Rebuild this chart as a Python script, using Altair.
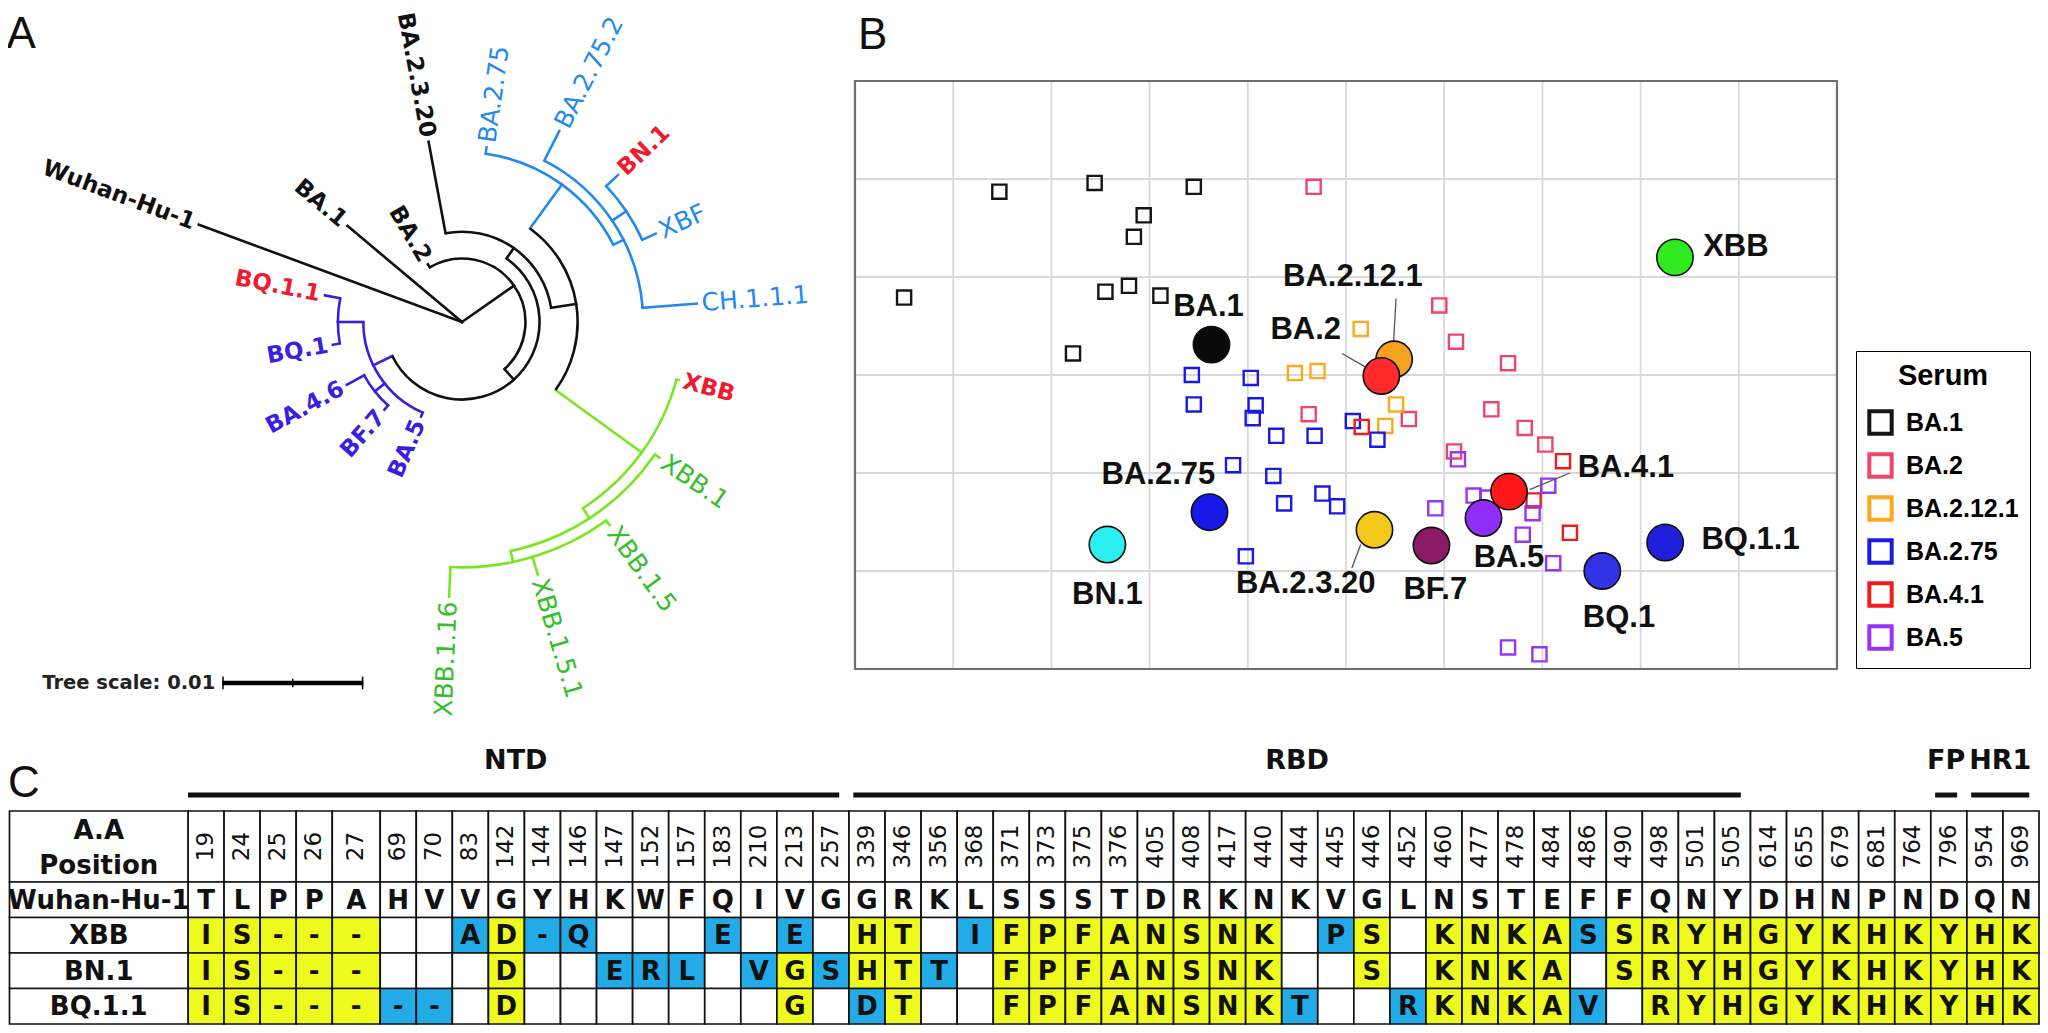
import altair as alt
import numpy as np
import pandas as pd

# ============================ DATA ============================
# ---- Panel A: phylogenetic tree (circular layout) ----
# angle: degrees, counter-clockwise from east; dist: distance from root in 0.001 subst./site
TREE_NODE = ["root", "Wuhan-Hu-1", "BA.1", "n_BA2", "BA.2", "n_postBA2", "n_BA45",
             "n_BQ", "BQ.1.1", "BQ.1", "n_BA46BF7", "BA.4.6", "BF.7", "BA.5",
             "n_BA2320", "BA.2.3.20", "n_BA275XBB", "n_BA275", "BA.2.75", "n_BA275b",
             "BA.2.75.2", "n_BN1", "BN.1", "XBF", "CH.1.1.1",
             "n_XBB", "XBB", "n_XBB1", "XBB.1", "n_XBB15", "XBB.1.5", "XBB.1.5.1", "XBB.1.16"]
TREE_PARENT = [None, "root", "root", "root", "n_BA2", "n_BA2", "n_postBA2",
               "n_BA45", "n_BQ", "n_BQ", "n_BA45", "n_BA46BF7", "n_BA46BF7", "n_BA45",
               "n_postBA2", "n_BA2320", "n_BA2320", "n_BA275XBB", "n_BA275", "n_BA275",
               "n_BA275b", "n_BA275b", "n_BN1", "n_BN1", "n_BA275b",
               "n_BA275XBB", "n_XBB", "n_XBB", "n_XBB1", "n_XBB1", "n_XBB15", "n_XBB15", "n_XBB15"]
TREE_ANGLE = [0, 159.7, 140, 35, 120.6, -48, -154,
              -180, -191, -170, -141.5, -151.4, -131.5, -113.4,
              55, 100.5, 9, 54, 82, 27,
              63, 34, 43.3, 24.5, 4.5,
              -36, -15, -57, -34.5, -78, -54, -73.3, -92.7]
TREE_DIST = [0, 19.9, 10.6, 4.5, 4.75, 5.5, 7.0,
             8.8, 9.9, 9.3, 7.9, 9.3, 8.3, 7.3,
             6.4, 13.0, 8.2, 12.05, 12.5, 12.85,
             15.2, 14.05, 15.2, 15.1, 16.7,
             15.75, 15.9, 16.6, 17.0, 17.4, 17.8, 18.7, 19.5]
TREE_CLADE = ["k"] * 6 + ["p"] * 8 + ["k"] * 3 + ["b"] * 8 + ["g"] * 8
TREE_RED_LABELS = ["BN.1", "XBB", "BQ.1.1"]
TREE_SCALE_LEN = 10  # = 0.01 substitutions/site

# ---- Panel B: antigenic map (map units, one grid square = 1 unit) ----
SERUM_GROUPS = ["BA.1", "BA.2", "BA.2.12.1", "BA.2.75", "BA.4.1", "BA.5"]
SERUM_BA1_X = [0.50, 1.47, 2.44, 3.45, 2.94, 2.84, 2.55, 2.79, 3.11, 2.22]
SERUM_BA1_Y = [3.79, 4.87, 4.96, 4.92, 4.63, 4.41, 3.85, 3.91, 3.81, 3.22]
SERUM_BA2_X = [4.67, 5.95, 6.12, 6.65, 6.48, 6.82, 7.03, 6.10, 5.64, 4.62]
SERUM_BA2_Y = [4.92, 3.71, 3.34, 3.12, 2.65, 2.46, 2.29, 2.22, 2.55, 2.60]
SERUM_BA2121_X = [5.15, 4.48, 4.71, 5.51, 5.40]
SERUM_BA2121_Y = [3.47, 3.02, 3.04, 2.70, 2.48]
SERUM_BA275_X = [3.43, 4.03, 3.45, 4.08, 4.05, 4.29, 4.68, 5.07, 5.32, 3.85, 4.26, 4.76, 4.91, 4.37, 3.98]
SERUM_BA275_Y = [3.00, 2.97, 2.70, 2.69, 2.56, 2.38, 2.38, 2.53, 2.34, 2.08, 1.97, 1.79, 1.66, 1.69, 1.15]
SERUM_BA41_X = [5.16, 7.21, 6.91, 7.28]
SERUM_BA41_Y = [2.47, 2.12, 1.72, 1.39]
SERUM_BA5_X = [6.14, 5.91, 6.30, 6.44, 7.06, 6.90, 6.80, 7.11, 6.65, 6.97]
SERUM_BA5_Y = [2.14, 1.64, 1.77, 1.75, 1.87, 1.59, 1.37, 1.08, 0.22, 0.15]

ANTIGEN_NAME = ["BA.1", "BA.2.12.1", "BA.2", "XBB", "BA.5", "BA.4.1", "BF.7",
                "BA.2.3.20", "BA.2.75", "BN.1", "BQ.1.1", "BQ.1"]
ANTIGEN_X = [3.63, 5.49, 5.36, 8.35, 6.40, 6.66, 5.87, 5.29, 3.61, 2.57, 8.25, 7.61]
ANTIGEN_Y = [3.31, 3.16, 2.99, 4.20, 1.54, 1.81, 1.26, 1.42, 1.60, 1.27, 1.29, 1.00]
ANTIGEN_LABEL_X = [3.60, 5.07, 4.59, 8.97, 6.66, 7.85, 5.91, 4.59, 3.09, 2.57, 9.12, 7.78]
ANTIGEN_LABEL_Y = [3.69, 4.00, 3.46, 4.31, 1.13, 2.05, 0.81, 0.87, 1.98, 0.76, 1.32, 0.52]
LEADER_X = [5.51, 4.96, 7.28, 5.06]
LEADER_Y = [3.78, 3.22, 2.00, 1.03]
LEADER_X2 = [5.48, 5.20, 6.87, 5.15]
LEADER_Y2 = [3.26, 3.08, 1.83, 1.27]

# ---- Panel C: spike amino-acid differences ----
POSITIONS = [19, 24, 25, 26, 27, 69, 70, 83, 142, 144, 146, 147, 152, 157, 183, 210, 213, 257,
             339, 346, 356, 368, 371, 373, 375, 376, 405, 408, 417, 440, 444, 445, 446, 452,
             460, 477, 478, 484, 486, 490, 498, 501, 505, 614, 655, 679, 681, 764, 796, 954, 969]
SEQ_ROWS = ["Wuhan-Hu-1", "XBB", "BN.1", "BQ.1.1"]
WUHAN_AA = "TLPPAHVVGYHKWFQIVGGRKLSSSTDRKNKVGLNSTEFFQNYDHNPNDQN"
XBB_AA = "IS---  AD-Q   E E HT IFPFANSNK PS KNKASSRYHGYKHKYHK"
XBB_CLASS = "yyyyy  bybb   b b yy byyyyyyyy by yyyybyyyyyyyyyyyy"
BN1_AA = "IS---   D  ERL VGSHTT FPFANSNK  S KNKA SRYHGYKHKYHK"
BN1_CLASS = "yyyyy   y  bbb bybyyb yyyyyyyy  y yyyy yyyyyyyyyyyy"
BQ11_AA = "IS----- D       G DT  FPFANSNKT  RKNKAV RYHGYKHKYHK"
BQ11_CLASS = "yyyyybb y       y by  yyyyyyyyb  byyyyb yyyyyyyyyyy"
DOMAIN_NAME = ["NTD", "RBD", "FP", "HR1"]
DOMAIN_FIRST = [19, 339, 796, 954]
DOMAIN_LAST = [257, 505, 796, 969]

for _s in (WUHAN_AA, XBB_AA, XBB_CLASS, BN1_AA, BN1_CLASS, BQ11_AA, BQ11_CLASS):
    assert len(_s) == len(POSITIONS), (_s, len(_s))

# ============================ STYLE / LAYOUT ============================
OFF = 8
W, H = 2032, 1017
FONT_A = "Liberation Sans"
FONT_B = "DejaVu Sans"

LINE_COLORS = {"k": "#111111", "b": "#2389F0", "g": "#7AE61E", "p": "#3B1FE0"}
LABEL_COLORS = {"k": "#111111", "b": "#2389F0", "g": "#34BE2C", "p": "#3B1FE0"}
RED = "#EE1C2E"
SERUM_COLORS = ["#151515", "#F0456A", "#FFA81C", "#1A1AE8", "#F01C1C", "#9A34F5"]
ANTIGEN_COLORS = {"BA.1": "#0A0A0A", "BA.2.12.1": "#F5A01E", "BA.2": "#FF2B2B", "XBB": "#2EEA1E",
                  "BA.5": "#8F2EF5", "BA.4.1": "#FF1717", "BF.7": "#8A1A66", "BA.2.3.20": "#F2C81A",
                  "BA.2.75": "#1818E8", "BN.1": "#2CF0F0", "BQ.1.1": "#2020DC", "BQ.1": "#3333E6"}
CELL_FILL = {"y": "#EEF91E", "b": "#22ABE6", " ": "#FFFFFF"}

TREE_UNIT = 14.1
ROOT_PX = (462, 322)


def rng(a, b):
    return [a - OFF, b - OFF]


def S(domain, range_):
    return alt.Scale(domain=domain, range=range_, nice=False, zero=False)


TX = S([-30, 30], rng(ROOT_PX[0] - 30 * TREE_UNIT, ROOT_PX[0] + 30 * TREE_UNIT))
TY = S([-30, 30], rng(ROOT_PX[1] + 30 * TREE_UNIT, ROOT_PX[1] - 30 * TREE_UNIT))
TR = alt.Scale(type="linear", domain=[0, 30], range=[0, 30 * TREE_UNIT], nice=False, zero=True)
MX = S([0, 10], rng(855, 1837))
MY = S([0, 6], rng(669, 81))
WIDE_COL, WIDE_EXTRA = 4, 0.33
NCOLU = len(POSITIONS) + WIDE_EXTRA
CX = S([0, NCOLU], rng(188, 2039))
CY = S([0, 6], rng(811, 1024))


def xy(xs, ys, x="x", y="y", x2=None, y2=None):
    e = dict(x=alt.X(x, type="quantitative", scale=xs, axis=None),
             y=alt.Y(y, type="quantitative", scale=ys, axis=None))
    if x2:
        e["x2"] = alt.X2(x2)
    if y2:
        e["y2"] = alt.Y2(y2)
    return e


layers = []

# ============================ PANEL A ============================
tree = pd.DataFrame({"node": TREE_NODE, "parent": TREE_PARENT, "theta": TREE_ANGLE,
                     "dist": TREE_DIST, "clade": TREE_CLADE})
dist_of = dict(zip(tree.node, tree.dist))
clade_of = dict(zip(tree.node, tree.clade))

edges = tree[tree.parent.notna()].copy()
edges["r0"] = edges.parent.map(dist_of)
th = np.radians(edges.theta)
edges["x"] = edges.r0 * np.cos(th)
edges["y"] = edges.r0 * np.sin(th)
edges["x2"] = edges.dist * np.cos(th)
edges["y2"] = edges.dist * np.sin(th)
edges["col"] = edges.clade.map(LINE_COLORS)
layers.append(alt.Chart(edges).mark_rule(strokeWidth=2.6, strokeCap="square").encode(
    **xy(TX, TY, x2="x2", y2="y2"), color=alt.Color("col:N", scale=None)))

arc_rows = []
for p, g in edges.groupby("parent"):
    if p == "root":
        continue
    lo, hi = g.theta.min(), g.theta.max()
    arc_rows.append({"cx": 0.0, "cy": 0.0, "r": dist_of[p],
                     "t0": np.radians(90 - hi), "t1": np.radians(90 - lo),
                     "col": LINE_COLORS[clade_of[p]]})
arcs = pd.DataFrame(arc_rows)
layers.append(alt.Chart(arcs).mark_arc(filled=False, fill="transparent", strokeWidth=2.6).encode(
    x=alt.X("cx:Q", scale=TX, axis=None), y=alt.Y("cy:Q", scale=TY, axis=None),
    radius=alt.Radius("r:Q", scale=TR), radius2=alt.Radius2("r:Q"),
    theta=alt.Theta("t0:Q", scale=None, stack=False), theta2=alt.Theta2("t1:Q"),
    color=alt.Color("col:N", scale=None)))

tips = tree[~tree.node.isin(set(TREE_PARENT))].copy()
tt = np.radians(tips.theta)
tips["lx"] = (tips.dist + 0.35) * np.cos(tt)
tips["ly"] = (tips.dist + 0.35) * np.sin(tt)
tips["right"] = np.cos(tt) >= 0
tips["ang"] = np.where(tips.right, (-tips.theta) % 360, (180 - tips.theta) % 360)
tips["col"] = [RED if n in TREE_RED_LABELS else LABEL_COLORS[c] for n, c in zip(tips.node, tips.clade)]
tips["bold"] = [(n in TREE_RED_LABELS) or c in ("k", "p") for n, c in zip(tips.node, tips.clade)]
for right in (True, False):
    for bold in (True, False):
        sub = tips[(tips.right == right) & (tips.bold == bold)]
        if len(sub) == 0:
            continue
        layers.append(alt.Chart(sub).mark_text(
            font=FONT_B, fontSize=23 if bold else 25, fontWeight="bold" if bold else "normal",
            align="left" if right else "right", baseline="middle").encode(
            **xy(TX, TY, x="lx", y="ly"), text="node:N",
            angle=alt.Angle("ang:Q", scale=None), color=alt.Color("col:N", scale=None)))

# tree scale bar
sb_y = -25.6
sb_x0 = -17.0
sbar = pd.DataFrame({"x": [sb_x0], "x2": [sb_x0 + TREE_SCALE_LEN], "y": [sb_y]})
layers.append(alt.Chart(sbar).mark_rule(strokeWidth=4.5, color="black").encode(
    **xy(TX, TY, x2="x2", y2=None)))
sticks = pd.DataFrame({"x": [sb_x0 + 0.05, sb_x0 + TREE_SCALE_LEN / 2, sb_x0 + TREE_SCALE_LEN - 0.05],
                       "y": [sb_y - 0.45, sb_y - 0.3, sb_y - 0.45],
                       "y2": [sb_y + 0.45, sb_y + 0.3, sb_y + 0.45]})
layers.append(alt.Chart(sticks).mark_rule(strokeWidth=1.5, color="black").encode(
    **xy(TX, TY, y2="y2")))
layers.append(alt.Chart(pd.DataFrame({"x": [sb_x0 - 0.5], "y": [sb_y], "t": ["Tree scale: 0.01"]}))
              .mark_text(font=FONT_B, fontSize=19.5, fontWeight="bold", align="right", baseline="middle",
                         color="#222222").encode(**xy(TX, TY), text="t:N"))

# ============================ PANEL B ============================
grid_v = pd.DataFrame({"x": list(range(1, 10)), "y": 0, "y2": 6})
grid_h = pd.DataFrame({"y": list(range(1, 6)), "x": 0, "x2": 10})
layers.append(alt.Chart(grid_v).mark_rule(color="#D9D9D9", strokeWidth=1.8).encode(**xy(MX, MY, y2="y2")))
layers.append(alt.Chart(grid_h).mark_rule(color="#D9D9D9", strokeWidth=1.8).encode(**xy(MX, MY, x2="x2")))
frame = pd.DataFrame({"x": [0], "x2": [10], "y": [0], "y2": [6]})
layers.append(alt.Chart(frame).mark_rect(fill="transparent", stroke="#6E6E6E", strokeWidth=2.2).encode(
    **xy(MX, MY, x2="x2", y2="y2")))

sera = pd.concat([
    pd.DataFrame({"serum": g, "x": xs, "y": ys}) for g, xs, ys in [
        ("BA.1", SERUM_BA1_X, SERUM_BA1_Y), ("BA.2", SERUM_BA2_X, SERUM_BA2_Y),
        ("BA.2.12.1", SERUM_BA2121_X, SERUM_BA2121_Y), ("BA.2.75", SERUM_BA275_X, SERUM_BA275_Y),
        ("BA.4.1", SERUM_BA41_X, SERUM_BA41_Y), ("BA.5", SERUM_BA5_X, SERUM_BA5_Y)]],
    ignore_index=True)
layers.append(alt.Chart(sera).mark_point(shape="square", filled=False, size=200, strokeWidth=2.4, opacity=1).encode(
    **xy(MX, MY),
    color=alt.Color("serum:N", sort=SERUM_GROUPS,
                    scale=alt.Scale(domain=SERUM_GROUPS, range=SERUM_COLORS),
                    legend=alt.Legend(title="Serum", orient="none", legendX=1848, legendY=343,
                                      direction="vertical", titleFont=FONT_A, titleFontSize=29,
                                      titleFontWeight="bold", titleColor="black", titleAnchor="middle",
                                      titlePadding=18, labelFont=FONT_A, labelFontSize=25,
                                      labelFontWeight="bold", labelColor="black", labelOffset=12,
                                      symbolType="square", symbolSize=500, symbolStrokeWidth=4,
                                      rowPadding=4, padding=11, strokeColor="black",
                                      cornerRadius=0))))

leaders = pd.DataFrame({"x": LEADER_X, "y": LEADER_Y, "x2": LEADER_X2, "y2": LEADER_Y2})
layers.append(alt.Chart(leaders).mark_rule(color="#555555", strokeWidth=1.3).encode(
    **xy(MX, MY, x2="x2", y2="y2")))

ag = pd.DataFrame({"name": ANTIGEN_NAME, "x": ANTIGEN_X, "y": ANTIGEN_Y,
                   "lx": ANTIGEN_LABEL_X, "ly": ANTIGEN_LABEL_Y})
ag["fillc"] = ag.name.map(ANTIGEN_COLORS)
ag["order"] = range(len(ag))
layers.append(alt.Chart(ag).mark_point(shape="circle", filled=True, size=1320, stroke="#111111",
                                       strokeWidth=1.6, opacity=1).encode(
    **xy(MX, MY), fill=alt.Fill("fillc:N", scale=None), order="order:Q"))
layers.append(alt.Chart(ag).mark_text(font=FONT_A, fontSize=31, fontWeight="bold", color="#111111",
                                      align="center", baseline="middle").encode(
    **xy(MX, MY, x="lx", y="ly"), text="name:N"))

# ============================ PANEL C ============================
cols = pd.DataFrame({"pos": POSITIONS})
cols["i"] = range(len(POSITIONS))
cols["l"] = cols.i + np.where(cols.i > WIDE_COL, WIDE_EXTRA, 0)
cols["r"] = cols.l + 1 + np.where(cols.i == WIDE_COL, WIDE_EXTRA, 0)
cols["c"] = (cols.l + cols.r) / 2
LABEL_LEFT = -4.95

aa_of = {"Wuhan-Hu-1": WUHAN_AA, "XBB": XBB_AA, "BN.1": BN1_AA, "BQ.1.1": BQ11_AA}
cls_of = {"Wuhan-Hu-1": " " * len(POSITIONS), "XBB": XBB_CLASS, "BN.1": BN1_CLASS, "BQ.1.1": BQ11_CLASS}

cell_rows = []
for i, pos in enumerate(POSITIONS):
    l, r, c = cols.l[i], cols.r[i], cols.c[i]
    cell_rows.append({"x": l, "x2": r, "y": 0, "y2": 2, "fill": "#FFFFFF", "t": str(int(pos)),
                      "cx": c, "cy": 1.0})
for k, rname in enumerate(SEQ_ROWS):
    for i, pos in enumerate(POSITIONS):
        l, r, c = cols.l[i], cols.r[i], cols.c[i]
        ch = aa_of[rname][i]
        cl = cls_of[rname][i]
        cell_rows.append({"x": l, "x2": r, "y": 2 + k, "y2": 3 + k, "fill": CELL_FILL[cl],
                          "t": ch.strip(), "cx": c, "cy": 2.5 + k})
cells = pd.DataFrame(cell_rows)
labcells = pd.DataFrame({"x": LABEL_LEFT, "x2": 0, "y": [0, 2, 3, 4, 5], "y2": [2, 3, 4, 5, 6],
                         "t": ["A.A\nPosition"] + SEQ_ROWS, "cx": LABEL_LEFT / 2,
                         "cy": [1.0, 2.5, 3.5, 4.5, 5.5], "fill": "#FFFFFF"})
allcells = pd.concat([cells, labcells], ignore_index=True)
layers.append(alt.Chart(allcells).mark_rect(stroke="#111111", strokeWidth=1.7).encode(
    **xy(CX, CY, x2="x2", y2="y2"), color=alt.Color("fill:N", scale=None)))

hdr = cells[cells.y == 0]
layers.append(alt.Chart(hdr).mark_text(font=FONT_B, fontSize=23, angle=270, align="center",
                                       baseline="middle", color="#111111").encode(
    **xy(CX, CY, x="cx", y="cy"), text="t:N"))
res = cells[(cells.y >= 2) & (cells.t != "")]
layers.append(alt.Chart(res).mark_text(font=FONT_B, fontSize=26, fontWeight="bold", align="center",
                                       baseline="middle", color="#111111", dy=1).encode(
    **xy(CX, CY, x="cx", y="cy"), text="t:N"))
layers.append(alt.Chart(labcells[labcells.y >= 2]).mark_text(
    font=FONT_B, fontSize=26, fontWeight="bold", align="center",
    baseline="middle", color="#111111", dy=1).encode(
    **xy(CX, CY, x="cx", y="cy"), text="t:N"))
layers.append(alt.Chart(labcells[labcells.y == 0]).mark_text(
    font=FONT_B, fontSize=26, fontWeight="bold", align="center",
    baseline="middle", color="#111111", lineBreak="\n", lineHeight=35, dy=-16).encode(
    **xy(CX, CY, x="cx", y="cy"), text="t:N"))

left_of = dict(zip(cols.pos, cols.l))
right_of = dict(zip(cols.pos, cols.r))
dom = pd.DataFrame({"name": DOMAIN_NAME,
                    "x": [left_of[p] + 0.12 for p in DOMAIN_FIRST],
                    "x2": [right_of[p] - 0.27 for p in DOMAIN_LAST]})
dom["y"] = -0.45
dom["ty"] = -1.40
dom["tx"] = (dom.x + dom.x2) / 2
dom.loc[dom.name == "NTD", "x"] = 0.0
layers.append(alt.Chart(dom).mark_rule(strokeWidth=5, color="#111111").encode(**xy(CX, CY, x2="x2")))
layers.append(alt.Chart(dom).mark_text(font=FONT_B, fontSize=27, fontWeight="bold", color="#111111",
                                       align="center", baseline="middle").encode(
    **xy(CX, CY, x="tx", y="ty"), text="name:N"))

# ============================ PANEL LETTERS ============================
layers.append(alt.Chart(pd.DataFrame({"x": [-32.3], "y": [19.4], "t": ["A"]})).mark_text(
    font=FONT_A, fontSize=44, align="left", baseline="alphabetic", color="#111111").encode(
    **xy(TX, TY), text="t:N"))
layers.append(alt.Chart(pd.DataFrame({"x": [0.03], "y": [6.33], "t": ["B"]})).mark_text(
    font=FONT_A, fontSize=44, align="left", baseline="alphabetic", color="#111111").encode(
    **xy(MX, MY), text="t:N"))
layers.append(alt.Chart(pd.DataFrame({"x": [-4.99], "y": [-0.39], "t": ["C"]})).mark_text(
    font=FONT_A, fontSize=44, align="left", baseline="alphabetic", color="#111111").encode(
    **xy(CX, CY), text="t:N"))

chart = alt.layer(*layers).properties(
    width=W, height=H, padding=0, background="white",
    autosize=alt.AutoSizeParams(type="none"),
).resolve_scale(x="independent", y="independent", color="independent", fill="independent"
).configure_view(stroke=None)

chart.save("out.html", embed_options={"renderer": "svg", "actions": False})
